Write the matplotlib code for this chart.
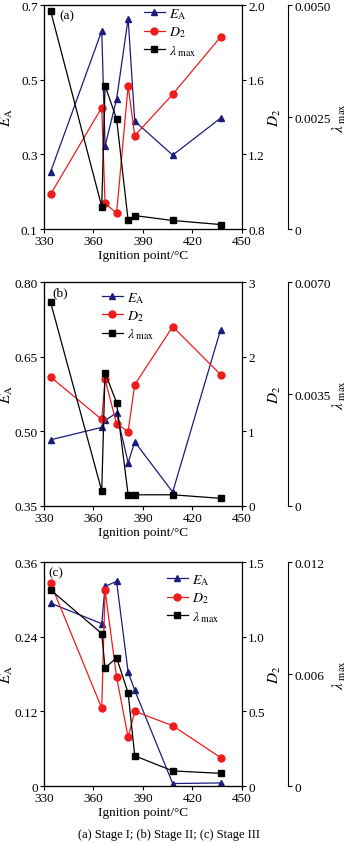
import numpy as np
import matplotlib
matplotlib.use("Agg")
import matplotlib.pyplot as plt
from matplotlib.legend_handler import HandlerLine2D

plt.rcParams['font.family'] = ['Liberation Serif', 'DejaVu Serif']
plt.rcParams['mathtext.fontset'] = 'stix'
plt.rcParams['font.size'] = 9

# ignition points (°C), same samples in every stage
ign = [334, 365, 367, 374, 381, 385, 408, 437]

# Stage I
ea_1 = [0.253, 0.631, 0.322, 0.448, 0.664, 0.389, 0.298, 0.397]
d2_1 = [0.986, 1.451, 0.938, 0.885, 1.567, 1.300, 1.522, 1.829]
lam_1 = [0.00487, 0.00050, 0.00320, 0.00246, 0.00019, 0.00030, 0.00019, 0.00010]

# Stage II
ea_2 = [0.483, 0.508, 0.522, 0.537, 0.437, 0.479, 0.378, 0.704]
d2_2 = [1.729, 1.159, 1.698, 1.100, 0.997, 1.626, 2.403, 1.761]
lam_2 = [0.00637, 0.00047, 0.00417, 0.00323, 0.00035, 0.00035, 0.00035, 0.00024]

# Stage III
ea_3 = [0.294, 0.261, 0.321, 0.329, 0.183, 0.154, 0.004, 0.005]
d2_3 = [1.359, 0.521, 1.314, 0.730, 0.326, 0.501, 0.404, 0.191]
lam_3 = [0.01051, 0.00817, 0.00632, 0.00688, 0.00498, 0.00162, 0.00081, 0.00068]

# axis ticks per panel
ea_ticks = [[0.1, 0.3, 0.5, 0.7], [0.35, 0.50, 0.65, 0.80], [0, 0.12, 0.24, 0.36]]
ea_labels = [['0.1', '0.3', '0.5', '0.7'], ['0.35', '0.50', '0.65', '0.80'], ['0', '0.12', '0.24', '0.36']]
d2_ticks = [[0.8, 1.2, 1.6, 2.0], [0, 1, 2, 3], [0, 0.5, 1.0, 1.5]]
d2_labels = [['0.8', '1.2', '1.6', '2.0'], ['0', '1', '2', '3'], ['0', '0.5', '1.0', '1.5']]
lam_ticks = [[0, 0.0025, 0.005], [0, 0.0035, 0.007], [0, 0.006, 0.012]]
lam_labels = [['0', '0.0025', '0.0050'], ['0', '0.0035', '0.0070'], ['0', '0.006', '0.012']]
x_ticks = [330, 360, 390, 420, 450]

panels = ['(a)', '(b)', '(c)']
ea_all = [ea_1, ea_2, ea_3]
d2_all = [d2_1, d2_2, d2_3]
lam_all = [lam_1, lam_2, lam_3]

navy = '#1c1c7c'
red = '#ee1c1c'


class LeftMarker(HandlerLine2D):
    # marker sits at the left end of the legend line
    def get_xdata(self, legend, xdescent, ydescent, width, height, fontsize):
        return [-xdescent, -xdescent + width], [-xdescent]


fig = plt.figure(figsize=(3.5, 8.45), dpi=100)
bottoms = [0.7278, 0.400, 0.0686]
leg_pos = [(0.505, 0.995), (0.292, 0.965), (0.62, 0.955)]
lab_pos = [(0.08, 0.956), (0.04, 0.955), (0.02, 0.955)]

for i in range(3):
    ax = fig.add_axes([0.1257, bottoms[i], 0.5657, 0.265])
    p1 = ax.twinx()
    p2 = ax.twinx()
    p2.spines['right'].set_position(('outward', 33))

    l1, = ax.plot(ign, ea_all[i], '-^', color=navy, lw=0.9, ms=5)
    l2, = p1.plot(ign, d2_all[i], '-o', color=red, lw=0.9, ms=5)
    l3, = p2.plot(ign, lam_all[i], '-s', color='black', lw=0.9, ms=5)

    ax.set_xlim(330, 450)
    ax.set_xticks(x_ticks)
    ax.set_ylim(ea_ticks[i][0], ea_ticks[i][-1])
    ax.set_yticks(ea_ticks[i])
    ax.set_yticklabels(ea_labels[i])
    p1.set_ylim(d2_ticks[i][0], d2_ticks[i][-1])
    p1.set_yticks(d2_ticks[i])
    p1.set_yticklabels(d2_labels[i])
    p2.set_ylim(lam_ticks[i][0], lam_ticks[i][-1])
    p2.set_yticks(lam_ticks[i])
    p2.set_yticklabels(lam_labels[i])

    for a in (ax, p1, p2):
        a.tick_params(direction='out', length=3, width=0.8, pad=1.5, labelsize=9.5)
        for s in a.spines.values():
            s.set_linewidth(0.8)
    ax.tick_params(axis='x', top=False)

    ax.set_xlabel('Ignition point/°C', fontsize=9.5, labelpad=1)
    ax.set_ylabel(r'$E_\mathrm{A}$', fontsize=11)
    ax.yaxis.set_label_coords(-0.148, 0.5)
    p1.set_ylabel(r'$D_2$', fontsize=11)
    p1.yaxis.set_label_coords(1.128, 0.5)
    p2.set_ylabel(r'$\lambda_\mathrm{\ max}$', fontsize=11)
    p2.yaxis.set_label_coords(1.45, 0.5)

    ax.text(lab_pos[i][0], lab_pos[i][1], panels[i], transform=ax.transAxes,
            ha='left', va='center', fontsize=9.5)

    p2.legend([l1, l2, l3], [r'$E_\mathrm{A}$', r'$D_2$', r'$\lambda_\mathrm{\ max}$'],
              handler_map={matplotlib.lines.Line2D: LeftMarker()},
              loc='upper left', bbox_to_anchor=leg_pos[i], frameon=False,
              borderpad=0, borderaxespad=0, handlelength=1.5, handletextpad=0.3,
              labelspacing=0.25, fontsize=10)

fig.text(0.484, 0.012, '(a) Stage I; (b) Stage II; (c) Stage III',
         ha='center', va='center', fontsize=9)

fig.savefig('out.png', dpi=100)
